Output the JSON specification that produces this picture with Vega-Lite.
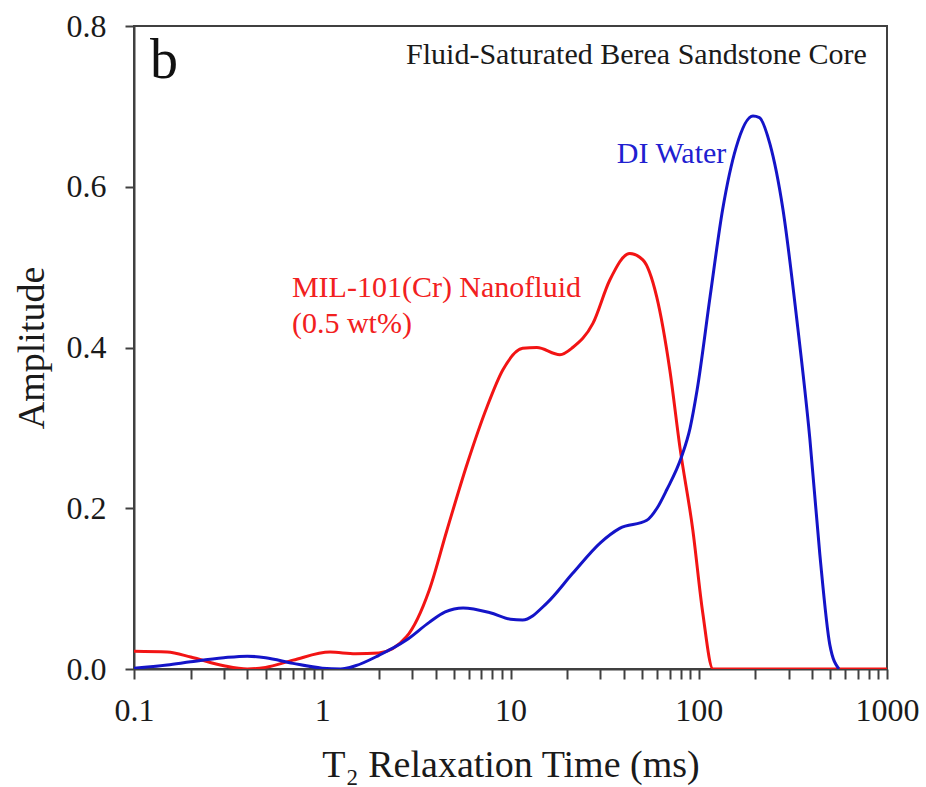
{
  "$schema": "https://vega.github.io/schema/vega-lite/v6.json",
  "width": 753,
  "height": 643,
  "autosize": "none",
  "padding": {"left": 134, "top": 26, "right": 39, "bottom": 118},
  "background": "white",
  "config": {
    "font": "Liberation Serif",
    "view": {"stroke": "#404040", "strokeWidth": 2},
    "axis": {
      "grid": false,
      "domainColor": "#404040",
      "domainWidth": 2,
      "tickColor": "#404040",
      "tickWidth": 2,
      "labelFont": "Liberation Serif",
      "titleFont": "Liberation Serif",
      "labelColor": "#1a1a1a",
      "titleColor": "#1a1a1a",
      "labelFontSize": 32,
      "titleFontSize": 38,
      "titleFontWeight": "normal",
      "labelFlush": false,
      "labelOverlap": false,
      "labelBound": false
    }
  },
  "datasets": {
    "curves": [
      {"t2": 0.1, "amp": 0.022, "series": "MIL-101(Cr) Nanofluid"},
      {"t2": 0.15, "amp": 0.021, "series": "MIL-101(Cr) Nanofluid"},
      {"t2": 0.2, "amp": 0.015, "series": "MIL-101(Cr) Nanofluid"},
      {"t2": 0.3, "amp": 0.004, "series": "MIL-101(Cr) Nanofluid"},
      {"t2": 0.4, "amp": 0.0, "series": "MIL-101(Cr) Nanofluid"},
      {"t2": 0.5, "amp": 0.002, "series": "MIL-101(Cr) Nanofluid"},
      {"t2": 0.7, "amp": 0.011, "series": "MIL-101(Cr) Nanofluid"},
      {"t2": 1.1, "amp": 0.021, "series": "MIL-101(Cr) Nanofluid"},
      {"t2": 1.5, "amp": 0.019, "series": "MIL-101(Cr) Nanofluid"},
      {"t2": 2.0, "amp": 0.02, "series": "MIL-101(Cr) Nanofluid"},
      {"t2": 2.8, "amp": 0.04, "series": "MIL-101(Cr) Nanofluid"},
      {"t2": 3.7, "amp": 0.098, "series": "MIL-101(Cr) Nanofluid"},
      {"t2": 4.6, "amp": 0.173, "series": "MIL-101(Cr) Nanofluid"},
      {"t2": 5.9, "amp": 0.256, "series": "MIL-101(Cr) Nanofluid"},
      {"t2": 7.5, "amp": 0.326, "series": "MIL-101(Cr) Nanofluid"},
      {"t2": 9.1, "amp": 0.372, "series": "MIL-101(Cr) Nanofluid"},
      {"t2": 11.6, "amp": 0.399, "series": "MIL-101(Cr) Nanofluid"},
      {"t2": 13.8, "amp": 0.4, "series": "MIL-101(Cr) Nanofluid"},
      {"t2": 18.3, "amp": 0.391, "series": "MIL-101(Cr) Nanofluid"},
      {"t2": 21.4, "amp": 0.4, "series": "MIL-101(Cr) Nanofluid"},
      {"t2": 27.4, "amp": 0.43, "series": "MIL-101(Cr) Nanofluid"},
      {"t2": 33.7, "amp": 0.484, "series": "MIL-101(Cr) Nanofluid"},
      {"t2": 43, "amp": 0.517, "series": "MIL-101(Cr) Nanofluid"},
      {"t2": 50.5, "amp": 0.509, "series": "MIL-101(Cr) Nanofluid"},
      {"t2": 59.8, "amp": 0.463, "series": "MIL-101(Cr) Nanofluid"},
      {"t2": 70.2, "amp": 0.372, "series": "MIL-101(Cr) Nanofluid"},
      {"t2": 79.4, "amp": 0.276, "series": "MIL-101(Cr) Nanofluid"},
      {"t2": 93, "amp": 0.173, "series": "MIL-101(Cr) Nanofluid"},
      {"t2": 105, "amp": 0.07, "series": "MIL-101(Cr) Nanofluid"},
      {"t2": 119, "amp": 0.0, "series": "MIL-101(Cr) Nanofluid"},
      {"t2": 300, "amp": 0.0, "series": "MIL-101(Cr) Nanofluid"},
      {"t2": 1000, "amp": 0.0, "series": "MIL-101(Cr) Nanofluid"},
      {"t2": 0.1, "amp": 0.001, "series": "DI Water"},
      {"t2": 0.15, "amp": 0.005, "series": "DI Water"},
      {"t2": 0.2, "amp": 0.009, "series": "DI Water"},
      {"t2": 0.3, "amp": 0.014, "series": "DI Water"},
      {"t2": 0.4, "amp": 0.016, "series": "DI Water"},
      {"t2": 0.5, "amp": 0.014, "series": "DI Water"},
      {"t2": 0.7, "amp": 0.007, "series": "DI Water"},
      {"t2": 1.0, "amp": 0.001, "series": "DI Water"},
      {"t2": 1.25, "amp": 0.0, "series": "DI Water"},
      {"t2": 1.5, "amp": 0.004, "series": "DI Water"},
      {"t2": 2.0, "amp": 0.017, "series": "DI Water"},
      {"t2": 2.8, "amp": 0.036, "series": "DI Water"},
      {"t2": 3.7, "amp": 0.058, "series": "DI Water"},
      {"t2": 4.5, "amp": 0.071, "series": "DI Water"},
      {"t2": 5.6, "amp": 0.076, "series": "DI Water"},
      {"t2": 7.8, "amp": 0.07, "series": "DI Water"},
      {"t2": 10, "amp": 0.062, "series": "DI Water"},
      {"t2": 11.6, "amp": 0.061, "series": "DI Water"},
      {"t2": 15.6, "amp": 0.082, "series": "DI Water"},
      {"t2": 21.4, "amp": 0.119, "series": "DI Water"},
      {"t2": 30, "amp": 0.157, "series": "DI Water"},
      {"t2": 38, "amp": 0.175, "series": "DI Water"},
      {"t2": 53, "amp": 0.185, "series": "DI Water"},
      {"t2": 60, "amp": 0.2, "series": "DI Water"},
      {"t2": 67.6, "amp": 0.223, "series": "DI Water"},
      {"t2": 81, "amp": 0.264, "series": "DI Water"},
      {"t2": 90, "amp": 0.3, "series": "DI Water"},
      {"t2": 98, "amp": 0.347, "series": "DI Water"},
      {"t2": 115, "amp": 0.464, "series": "DI Water"},
      {"t2": 134, "amp": 0.572, "series": "DI Water"},
      {"t2": 158, "amp": 0.649, "series": "DI Water"},
      {"t2": 194, "amp": 0.688, "series": "DI Water"},
      {"t2": 210, "amp": 0.686, "series": "DI Water"},
      {"t2": 239, "amp": 0.653, "series": "DI Water"},
      {"t2": 280, "amp": 0.572, "series": "DI Water"},
      {"t2": 331, "amp": 0.437, "series": "DI Water"},
      {"t2": 389, "amp": 0.287, "series": "DI Water"},
      {"t2": 440, "amp": 0.142, "series": "DI Water"},
      {"t2": 497, "amp": 0.03, "series": "DI Water"},
      {"t2": 555, "amp": 0.0, "series": "DI Water"}
    ]
  },
  "layer": [
    {
      "data": {"name": "curves"},
      "mark": {"type": "line", "interpolate": "monotone", "strokeWidth": 3, "clip": true},
      "encoding": {
        "x": {
          "field": "t2",
          "type": "quantitative",
          "scale": {"type": "log", "domain": [0.1, 1000], "nice": false},
          "axis": {
            "title": "T₂ Relaxation Time (ms)",
            "values": [0.1, 0.2, 0.3, 0.4, 0.5, 0.6, 0.7, 0.8, 0.9, 1, 2, 3, 4, 5, 6, 7, 8, 9, 10, 20, 30, 40, 50, 60, 70, 80, 90, 100, 200, 300, 400, 500, 600, 700, 800, 900, 1000],
            "labelExpr": "datum.value == 0.1 ? '0.1' : datum.value == 1 ? '1' : datum.value == 10 ? '10' : datum.value == 100 ? '100' : datum.value == 1000 ? '1000' : ''",
            "tickSize": 10,
            "labelPadding": 16,
            "titlePadding": 20
          }
        },
        "y": {
          "field": "amp",
          "type": "quantitative",
          "scale": {"domain": [0, 0.8], "nice": false},
          "axis": {
            "title": "Amplitude",
            "values": [0, 0.2, 0.4, 0.6, 0.8],
            "format": ".1f",
            "tickSize": 9,
            "labelPadding": 19,
            "titlePadding": 15
          }
        },
        "color": {
          "field": "series",
          "type": "nominal",
          "scale": {"domain": ["MIL-101(Cr) Nanofluid", "DI Water"], "range": ["#f21414", "#1414c8"]},
          "legend": null
        },
        "order": {"field": "t2", "type": "quantitative"}
      }
    },
    {
      "data": {"values": [{"t2": 0.1216, "amp": 0.7353, "label": "b"}]},
      "mark": {"type": "text", "align": "left", "baseline": "alphabetic", "fontSize": 56, "color": "#111111", "font": "Liberation Serif"},
      "encoding": {
        "x": {"field": "t2", "type": "quantitative"},
        "y": {"field": "amp", "type": "quantitative"},
        "text": {"field": "label"}
      }
    },
    {
      "data": {"values": [{"t2": 781, "amp": 0.7527, "label": "Fluid-Saturated Berea Sandstone Core"}]},
      "mark": {"type": "text", "align": "right", "baseline": "alphabetic", "fontSize": 30, "color": "#1a1a1a", "font": "Liberation Serif"},
      "encoding": {
        "x": {"field": "t2", "type": "quantitative"},
        "y": {"field": "amp", "type": "quantitative"},
        "text": {"field": "label"}
      }
    },
    {
      "data": {"values": [{"t2": 36.7, "amp": 0.6296, "label": "DI Water"}]},
      "mark": {"type": "text", "align": "left", "baseline": "alphabetic", "fontSize": 30, "color": "#2020d0", "font": "Liberation Serif"},
      "encoding": {
        "x": {"field": "t2", "type": "quantitative"},
        "y": {"field": "amp", "type": "quantitative"},
        "text": {"field": "label"}
      }
    },
    {
      "data": {"values": [
        {"t2": 0.69, "amp": 0.4628, "label": "MIL-101(Cr) Nanofluid"},
        {"t2": 0.69, "amp": 0.418, "label": "(0.5 wt%)"}
      ]},
      "mark": {"type": "text", "align": "left", "baseline": "alphabetic", "fontSize": 30, "color": "#f22020", "font": "Liberation Serif"},
      "encoding": {
        "x": {"field": "t2", "type": "quantitative"},
        "y": {"field": "amp", "type": "quantitative"},
        "text": {"field": "label"}
      }
    }
  ]
}
